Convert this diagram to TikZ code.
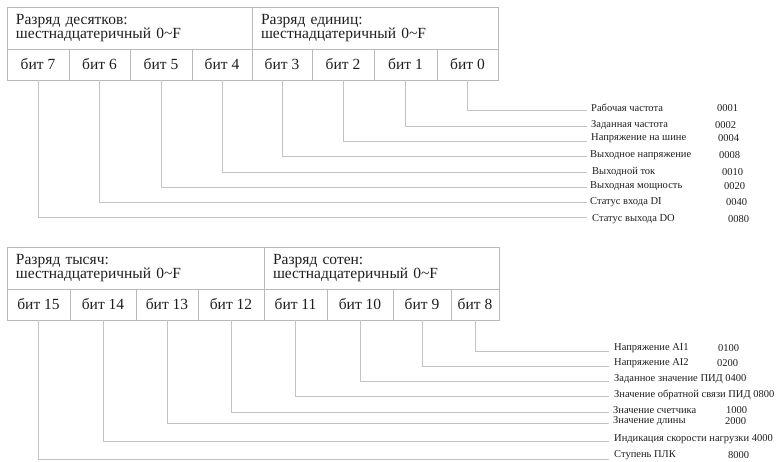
\documentclass[tikz,border=0pt]{standalone}
\usepackage{fontspec}
\setmainfont{Liberation Serif}
\usepackage{xcolor}
\usepackage{tikz}
\usetikzlibrary{positioning}

\definecolor{gridgray}{RGB}{185,185,185}
\definecolor{leadgray}{RGB}{195,195,195}
\definecolor{inkgray}{RGB}{30,30,30}

\begin{document}
\begin{tikzpicture}[x=1pt,y=-1pt,text=inkgray,
  cell/.style={draw=gridgray,line width=0.8,outer sep=0pt,anchor=north west,inner sep=0pt},
  hdr/.style={cell,minimum height=42,align=left,inner xsep=9,font=\fontsize{15.5}{14.5}\selectfont},
  bitcell/.style={cell,minimum height=31,font=\fontsize{15.5}{15}\selectfont},
  lead/.style={draw=leadgray,line width=0.8},
  lbl/.style={anchor=west,inner sep=0pt,font=\fontsize{10.5}{11}\selectfont}]
\useasboundingbox (0,0) rectangle (777,462);
% upper register: bits 0..7
\node[hdr,text width=227] (h1) at (7,7) {Разряд десятков:\\шестнадцатеричный 0\textasciitilde F};
\node[hdr,text width=228] (h0) at (252,7) {Разряд единиц:\\шестнадцатеричный 0\textasciitilde F};
\node[bitcell,minimum width=62] (b7) at (7,49) {бит 7};
\node[bitcell,minimum width=61] (b6) at (69,49) {бит 6};
\node[bitcell,minimum width=62] (b5) at (130,49) {бит 5};
\node[bitcell,minimum width=60] (b4) at (192,49) {бит 4};
\node[bitcell,minimum width=60] (b3) at (252,49) {бит 3};
\node[bitcell,minimum width=62] (b2) at (312,49) {бит 2};
\node[bitcell,minimum width=63] (b1) at (374,49) {бит 1};
\node[bitcell,minimum width=61] (b0) at (437,49) {бит 0};
% upper legend
\node[lbl] (l0) at (591,108) {Рабочая частота};
\node[lbl] (l1) at (591,125) {Заданная частота};
\node[lbl] (l2) at (591,138) {Напряжение на шине};
\node[lbl] (l3) at (590,155) {Выходное напряжение};
\node[lbl] (l4) at (592,172) {Выходной ток};
\node[lbl] (l5) at (590,186) {Выходная мощность};
\node[lbl] (l6) at (590,202) {Статус входа DI};
\node[lbl] (l7) at (592,219) {Статус выхода DO};
\node[lbl] (c0) at (717,108) {0001};
\node[lbl] (c1) at (715,125) {0002};
\node[lbl] (c2) at (718,138) {0004};
\node[lbl] (c3) at (719,155) {0008};
\node[lbl] (c4) at (722,172) {0010};
\node[lbl] (c5) at (724,186) {0020};
\node[lbl] (c6) at (726,202) {0040};
\node[lbl] (c7) at (728,219) {0080};
\coordinate (e0) at (587,110);
\coordinate (e1) at (587,126);
\coordinate (e2) at (587,141);
\coordinate (e3) at (587,156);
\coordinate (e4) at (587,172);
\coordinate (e5) at (587,187);
\coordinate (e6) at (587,202);
\coordinate (e7) at (587,217);
\draw[lead] (b0.south) |- (e0);
\draw[lead] (b1.south) |- (e1);
\draw[lead] (b2.south) |- (e2);
\draw[lead] (b3.south) |- (e3);
\draw[lead] (b4.south) |- (e4);
\draw[lead] (b5.south) |- (e5);
\draw[lead] (b6.south) |- (e6);
\draw[lead] (b7.south) |- (e7);
% lower register: bits 8..15
\node[hdr,text width=239] (h3) at (7,247) {Разряд тысяч:\\шестнадцатеричный 0\textasciitilde F};
\node[hdr,text width=217] (h2) at (264,247) {Разряд сотен:\\шестнадцатеричный 0\textasciitilde F};
\node[bitcell,minimum width=63] (b15) at (7,289) {бит 15};
\node[bitcell,minimum width=66] (b14) at (70,289) {бит 14};
\node[bitcell,minimum width=62] (b13) at (136,289) {бит 13};
\node[bitcell,minimum width=66] (b12) at (198,289) {бит 12};
\node[bitcell,minimum width=63] (b11) at (264,289) {бит 11};
\node[bitcell,minimum width=66] (b10) at (327,289) {бит 10};
\node[bitcell,minimum width=58] (b9) at (393,289) {бит 9};
\node[bitcell,minimum width=48] (b8) at (451,289) {бит 8};
% lower legend
\node[lbl] (l8) at (614,348) {Напряжение AI1};
\node[lbl] (l9) at (614,363) {Напряжение AI2};
\node[lbl] (l10) at (614,379) {Заданное значение ПИД 0400};
\node[lbl] (l11) at (614,395) {Значение обратной связи ПИД 0800};
\node[lbl] (l12) at (613,410) {Значение счетчика};
\node[lbl] (l13) at (613,421) {Значение длины};
\node[lbl] (l14) at (614,439) {Индикация скорости нагрузки 4000};
\node[lbl] (l15) at (614,455) {Ступень ПЛК};
\node[lbl] (c8) at (718,348) {0100};
\node[lbl] (c9) at (717,363) {0200};
\node[lbl] (c12) at (726,410) {1000};
\node[lbl] (c13) at (725,421) {2000};
\node[lbl] (c15) at (728,455) {8000};
\coordinate (e8) at (609,351);
\coordinate (e9) at (609,366);
\coordinate (e10) at (609,381);
\coordinate (e11) at (609,396);
\coordinate (e12) at (609,412);
\coordinate (e13) at (609,423);
\coordinate (e14) at (609,441);
\coordinate (e15) at (609,459);
\draw[lead] (b8.south) |- (e8);
\draw[lead] (b9.south) |- (e9);
\draw[lead] (b10.south) |- (e10);
\draw[lead] (b11.south) |- (e11);
\draw[lead] (b12.south) |- (e12);
\draw[lead] (b13.south) |- (e13);
\draw[lead] (b14.south) |- (e14);
\draw[lead] (b15.south) |- (e15);
\end{tikzpicture}
\end{document}
